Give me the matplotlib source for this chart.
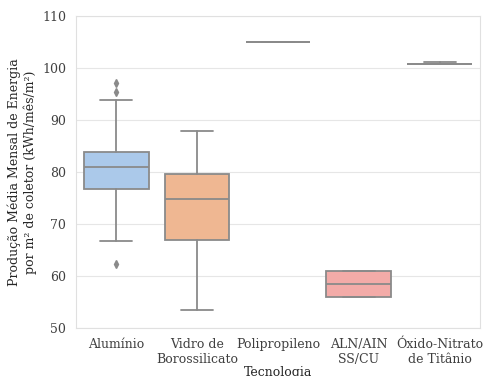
import matplotlib
matplotlib.use("Agg")
import matplotlib.pyplot as plt
import seaborn as sns

# categories and box statistics
tecnologias = ["Alumínio", "Vidro de\nBorossilicato", "Polipropileno", "ALN/AIN\nSS/CU", "Óxido-Nitrato\nde Titânio"]
q1 = [76.7, 66.9, 105.0, 56.0, 100.7]
mediana = [81.0, 74.75, 105.0, 58.5, 100.75]
q3 = [83.8, 79.7, 105.0, 61.0, 100.85]
whis_lo = [66.7, 53.5, 105.0, 56.0, 100.7]
whis_hi = [93.8, 87.8, 105.0, 61.0, 101.1]
outliers = [[97.2, 95.4, 62.3], [], [], [], []]

sns.set_style("whitegrid")
plt.rcParams['font.family'] = ['DejaVu Serif']

colors = [sns.desaturate(c, 0.75) for c in sns.color_palette("pastel", 5)]
edge = "#8a8a8a"
lw = 1.3

fig, ax = plt.subplots(figsize=(4.83, 3.76), dpi=100)
fig.subplots_adjust(left=0.157, right=0.994, top=0.957, bottom=0.128)

stats = []
for i, lab in enumerate(tecnologias):
    stats.append(dict(label=lab, q1=q1[i], med=mediana[i], q3=q3[i],
                      whislo=whis_lo[i], whishi=whis_hi[i], fliers=outliers[i]))

bp = ax.bxp(stats, positions=range(len(tecnologias)), widths=0.8, patch_artist=True,
            boxprops=dict(edgecolor=edge, linewidth=lw),
            medianprops=dict(color=edge, linewidth=lw),
            whiskerprops=dict(color=edge, linewidth=lw),
            capprops=dict(color=edge, linewidth=lw),
            flierprops=dict(marker="d", markerfacecolor=edge, markeredgecolor=edge, markersize=4))
for patch, c in zip(bp["boxes"], colors):
    patch.set_facecolor(c)

ax.set_xlim(-0.5, 4.5)
ax.set_ylim(50, 110)
ax.set_yticks([50, 60, 70, 80, 90, 100, 110])
ax.set_xlabel("Tecnologia", fontsize=9, labelpad=0)
ax.set_ylabel("Produção Média Mensal de Energia\npor m² de coletor (kWh/mês/m²)", fontsize=9)
ax.tick_params(labelsize=9, colors="0.25")
ax.grid(axis="y", color="0.9")
ax.grid(axis="x", visible=False)
for s in ax.spines.values():
    s.set_color("0.88")

fig.savefig("out.png")
